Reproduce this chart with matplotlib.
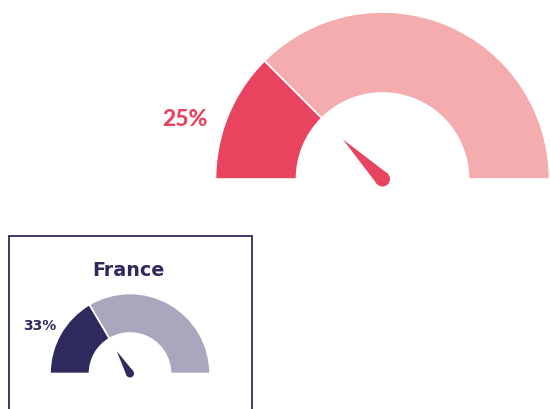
import numpy as np
import matplotlib
matplotlib.use("Agg")
import matplotlib.pyplot as plt
from matplotlib.patches import Wedge, Circle, Polygon, Rectangle

# Data
gauge_names = ["Overall", "France"]
gauge_values = [25, 33]          # percent
gauge_max = 100
gauge_labels = ["25%", "33%"]
fill_colors = ["#E8435F", "#2E2A5E"]
rest_colors = ["#F4ACAF", "#A9A6BD"]

W, H = 550, 409
fig = plt.figure(figsize=(5.5, 4.09), dpi=100)
ax = fig.add_axes([0, 0, 1, 1])
ax.set_xlim(0, W)
ax.set_ylim(0, H)
ax.set_aspect("equal")
ax.axis("off")

def gauge(ax, cx, cy, R, r, value, fill, rest, needle_len, base_r):
    split = 180 - value / gauge_max * 180
    ax.add_patch(Wedge((cx, cy), R, 0, split, width=R - r, facecolor=rest,
                       edgecolor="white", linewidth=1.2))
    ax.add_patch(Wedge((cx, cy), R, split, 180, width=R - r, facecolor=fill,
                       edgecolor="white", linewidth=1.2))
    a = np.deg2rad(split)
    tip = (cx + needle_len * np.cos(a), cy + needle_len * np.sin(a))
    px, py = -np.sin(a), np.cos(a)
    p1 = (cx + base_r * px, cy + base_r * py)
    p2 = (cx - base_r * px, cy - base_r * py)
    ax.add_patch(Polygon([tip, p1, p2], closed=True, facecolor=fill, edgecolor="none"))
    ax.add_patch(Circle((cx, cy), base_r, facecolor=fill, edgecolor="none"))

lato = ["Lato", "DejaVu Sans"]
dejavu = ["DejaVu Sans"]

# Large gauge
gauge(ax, 382.5, H - 179, 167, 86, gauge_values[0], fill_colors[0], rest_colors[0], 56, 7.5)
ax.text(185, H - 119, gauge_labels[0], color=fill_colors[0], fontsize=16.5,
        fontweight="black", family=lato, ha="center", va="center")

# Small card
ax.add_patch(Rectangle((8.5, -10), 243, H - 236 + 10, facecolor="none",
                       edgecolor=fill_colors[1], linewidth=1.3))
ax.text(128, H - 271, gauge_names[1], color=fill_colors[1], fontsize=13.8,
        fontweight="bold", family=dejavu, ha="center", va="center")
gauge(ax, 130, H - 373.5, 80, 40.5, gauge_values[1], fill_colors[1], rest_colors[1], 26, 4)
ax.text(39.5, H - 326, gauge_labels[1], color=fill_colors[1], fontsize=10,
        fontweight="bold", family=dejavu, ha="center", va="center")

fig.savefig("out.png", dpi=100)
